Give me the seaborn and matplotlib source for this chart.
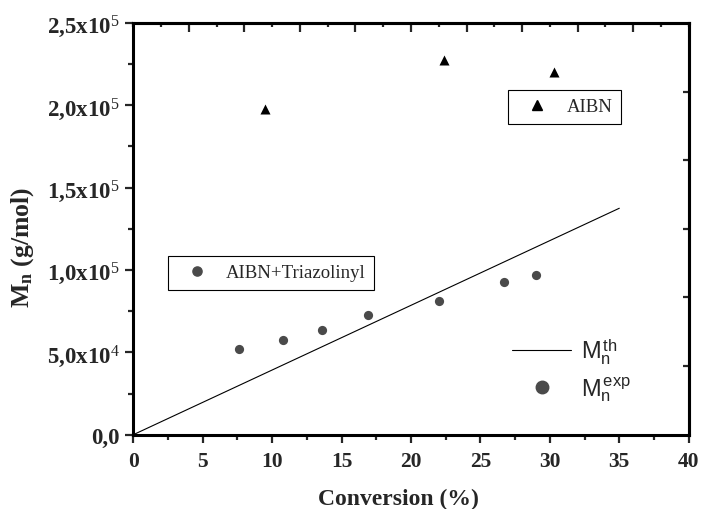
import matplotlib
matplotlib.use("Agg")
import matplotlib.pyplot as plt
import seaborn as sns
import pandas as pd
from matplotlib.lines import Line2D
from matplotlib.ticker import MultipleLocator

# AIBN + Triazolinyl (experimental Mn)
conv_triaz = [7.6, 10.8, 13.6, 16.9, 22.0, 26.7, 29.0]
mn_triaz = [52000, 57700, 63800, 72500, 81400, 92900, 96800]

# AIBN only
conv_aibn = [9.5, 22.4, 30.3]
mn_aibn = [197800, 227600, 220000]

# theoretical Mn line
conv_th = [0, 35]
mn_th = [0, 137500]

x_ticks = [0, 5, 10, 15, 20, 25, 30, 35, 40]
y_ticks = [0, 50000, 100000, 150000, 200000, 250000]
y_ticklabels = ["0,0", "5,0x10$^{4}$", "1,0x10$^{5}$", "1,5x10$^{5}$",
                "2,0x10$^{5}$", "2,5x10$^{5}$"]

sns.set_style("ticks")
plt.rcParams["font.family"] = ["Liberation Serif", "DejaVu Serif"]
plt.rcParams["mathtext.fontset"] = "custom"
plt.rcParams["mathtext.rm"] = "Liberation Serif"
plt.rcParams["mathtext.bf"] = "Liberation Serif:bold"
plt.rcParams["mathtext.it"] = "Liberation Serif:italic"
plt.rcParams["mathtext.sf"] = "Liberation Sans"

df_triaz = pd.DataFrame({"conv": conv_triaz, "mn": mn_triaz})
df_aibn = pd.DataFrame({"conv": conv_aibn, "mn": mn_aibn})
df_th = pd.DataFrame({"conv": conv_th, "mn": mn_th})

fig = plt.figure(figsize=(7.01, 5.10), dpi=100)
ax = fig.add_axes([0.1902, 0.1457, 0.7923, 0.8073])

sns.lineplot(data=df_th, x="conv", y="mn", color="black", linewidth=0.8, ax=ax)
sns.scatterplot(data=df_triaz, x="conv", y="mn", color="#4a4a4a", s=44,
                linewidth=0, marker="o", ax=ax)
sns.scatterplot(data=df_aibn, x="conv", y="mn", color="black", s=52,
                linewidth=0, marker="^", ax=ax)

ax.set_xlim(0, 40)
ax.set_ylim(0, 250000)
ax.set_xticks(x_ticks)
ax.set_xticklabels([str(v) for v in x_ticks])
ax.set_yticks(y_ticks)
ax.set_yticklabels(y_ticklabels)
ax.xaxis.set_minor_locator(MultipleLocator(2.5))
ax.yaxis.set_minor_locator(MultipleLocator(25000))

for lbl in ax.get_xticklabels():
    lbl.set_fontweight("bold")
    lbl.set_fontsize(15.5)
for lbl in ax.get_yticklabels():
    lbl.set_fontweight("bold")
    lbl.set_fontsize(16.5)

ax.tick_params(which="major", direction="out", length=6, width=1.6, pad=4)
ax.tick_params(axis="x", which="major", pad=6)
ax.tick_params(which="minor", direction="out", length=3.5, width=1.6)

for sp in ax.spines.values():
    sp.set_linewidth(2.2)
    sp.set_color("black")
    sp.set_visible(True)

ax.set_xlabel("Conversion (%)", fontsize=17, fontweight="bold")
ax.xaxis.set_label_coords(0.477, -0.128)
ax.set_ylabel(r"M$_{\mathbf{n}}$ (g/mol)", fontsize=18.5, fontweight="bold")
ax.yaxis.set_label_coords(-0.176, 0.456)

# top and right axes (Origin style, own tick spacing, no labels)
top = ax.secondary_xaxis("top")
top.set_xticks([4, 8, 12, 16, 20, 24, 28, 32, 36])
top.xaxis.set_minor_locator(MultipleLocator(2))
top.tick_params(which="major", direction="in", length=6.5, width=1.6, labeltop=False)
top.tick_params(which="minor", direction="in", length=3, width=1.6)
top.spines["top"].set_linewidth(2.2)

right = ax.secondary_yaxis("right", functions=(lambda v: v / 250000 * 6,
                                                lambda v: v / 6 * 250000))
right.set_yticks([1, 2, 3, 4, 5])
right.tick_params(which="major", direction="in", length=4, width=1.6, labelright=False)
right.spines["right"].set_linewidth(2.2)

# legends
circ_h = Line2D([], [], marker="o", ls="", color="#4a4a4a", markersize=6.6)
tri_h = Line2D([], [], marker="^", ls="", color="black", markersize=7.2)

leg_aibn = ax.legend([tri_h], ["AIBN"], loc="upper left",
                     bbox_to_anchor=(0.675, 0.838), borderaxespad=0,
                     fancybox=False, edgecolor="black", framealpha=1,
                     prop={"family": "Liberation Serif", "size": 13.5},
                     borderpad=0.45, handletextpad=0.45, handlelength=2.2)
leg_aibn.get_frame().set_linewidth(0.8)
ax.add_artist(leg_aibn)

leg_triaz = ax.legend([circ_h], ["AIBN+Triazolinyl"], loc="upper left",
                      bbox_to_anchor=(0.0625, 0.4345), borderaxespad=0,
                      fancybox=False, edgecolor="black", framealpha=1,
                      prop={"family": "Liberation Serif", "size": 13.5},
                      borderpad=0.45, handletextpad=0.45, handlelength=2.2)
leg_triaz.get_frame().set_linewidth(0.8)
ax.add_artist(leg_triaz)

line_h = Line2D([], [], color="black", linewidth=0.8)
big_circ = Line2D([], [], marker="o", ls="", color="#4a4a4a", markersize=9)
leg_m = ax.legend([line_h, big_circ],
                  [r"$\mathsf{M}_{\mathsf{n}}^{\,\mathsf{th}}$",
                   r"$\mathsf{M}_{\mathsf{n}}^{\,\mathsf{exp}}$"],
                  loc="center left", bbox_to_anchor=(0.682, 0.158),
                  borderaxespad=0, borderpad=0, frameon=False,
                  prop={"family": "Liberation Sans", "size": 17},
                  handlelength=2.5, handletextpad=0.4, labelspacing=0.35)

fig.savefig("out.png", dpi=100)
plt.close(fig)
